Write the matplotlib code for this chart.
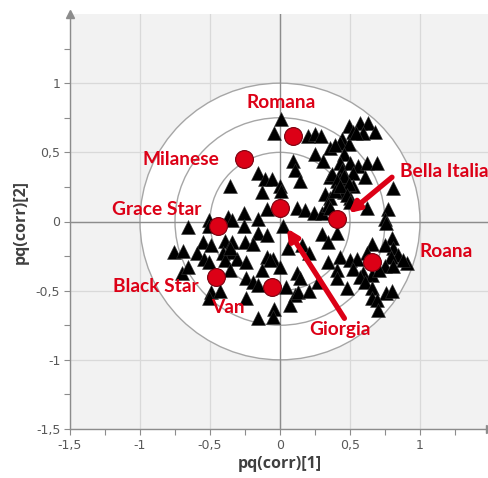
import matplotlib
matplotlib.use("Agg")
import matplotlib.pyplot as plt
from matplotlib.patches import Circle
from matplotlib.ticker import FixedLocator, FuncFormatter

# Loadings of the variables (black triangles)
var_x = [-0.36, -0.26, -0.37, -0.51,
         0.01, -0.04, 0.20, 0.25, 0.29, 0.36, 0.25, 0.31, 0.09, 0.11, 0.14,
         -0.16, -0.11, -0.06, 0.00, 0.01, -0.13, 0.32, 0.36, -0.09, 0.12,
         0.18, 0.24, 0.30, 0.36, 0.34,
         0.49, 0.57, 0.63, 0.68, 0.59, 0.52, 0.44, 0.43, 0.49, 0.46, 0.43,
         0.50, 0.56, 0.62, 0.69, 0.44, 0.52, 0.61, 0.43, 0.46, 0.52, 0.46,
         0.50, 0.81, 0.62, 0.77, 0.75,
         0.54, 0.39, 0.37, 0.46, 0.41, 0.49, 0.39, 0.43, 0.48, 0.50, 0.36,
         -0.66, -0.51, -0.26, -0.55, -0.49, -0.39, -0.34, -0.25, -0.76, -0.69,
         -0.59, -0.54, -0.51, -0.41, -0.34, -0.31, -0.39, -0.36, -0.24, -0.70,
         -0.66, -0.24, -0.49, -0.43, -0.51, -0.24,
         -0.34, -0.16, -0.36, -0.05,
         -0.16, -0.09, 0.02, -0.19, 0.06, -0.09, -0.07, -0.13, 0.00, 0.16,
         0.21, 0.30, 0.34, 0.34, 0.12, 0.14, -0.19, -0.16, 0.04, 0.11, 0.13,
         0.21, 0.27, 0.07, -0.04, -0.05, -0.16,
         0.76, 0.41, 0.66, 0.80, 0.81, 0.75, 0.84, 0.79, 0.62, 0.43, 0.50,
         0.55, 0.91, 0.88, 0.75, 0.81, 0.52, 0.59, 0.57, 0.41, 0.41, 0.66,
         0.71, 0.61, 0.48, 0.66, 0.66, 0.76, 0.80, 0.69, 0.70]
var_y = [0.26, 0.06, 0.03, 0.01,
         0.74, 0.64, 0.62, 0.63, 0.62, 0.53, 0.49, 0.44, 0.44, 0.37, 0.29,
         0.35, 0.31, 0.31, 0.26, 0.22, 0.21, 0.20, 0.32, 0.09, 0.10,
         0.08, 0.06, 0.06, 0.17, 0.12,
         0.69, 0.71, 0.71, 0.65, 0.64, 0.65, 0.60, 0.57, 0.56, 0.49, 0.42,
         0.42, 0.40, 0.42, 0.42, 0.37, 0.35, 0.32, 0.31, 0.28, 0.26, 0.21,
         0.17, 0.24, 0.10, 0.09, 0.02,
         0.64, 0.55, 0.34, 0.33, 0.29, 0.27, 0.22, 0.26, 0.19, 0.14, 0.10,
         -0.04, -0.03, -0.03, -0.15, -0.17, -0.14, -0.15, -0.15, -0.22, -0.21,
         -0.23, -0.27, -0.29, -0.23, -0.22, -0.27, -0.28, -0.35, -0.29, -0.37,
         -0.33, -0.41, -0.51, -0.50, -0.55, -0.55,
         0.01, 0.02, -0.19, -0.27,
         -0.08, -0.10, -0.03, -0.16, -0.19, -0.26, -0.28, -0.35, -0.33, -0.17,
         -0.23, -0.09, -0.15, -0.29, -0.37, -0.41, -0.44, -0.46, -0.47, -0.53,
         -0.51, -0.50, -0.44, -0.60, -0.63, -0.69, -0.70,
         -0.01, -0.08, -0.16, -0.12, -0.19, -0.17, -0.24, -0.26, -0.23, -0.26,
         -0.28, -0.27, -0.30, -0.28, -0.32, -0.32, -0.34, -0.37, -0.40, -0.35,
         -0.41, -0.39, -0.35, -0.44, -0.48, -0.48, -0.55, -0.52, -0.50, -0.57,
         -0.64]

# Products (red circles)
products = ["Romana", "Milanese", "Grace Star", "Black Star", "Van",
            "Giorgia", "Bella Italia", "Roana"]
prod_x = [0.09, -0.26, -0.44, -0.46, -0.06, 0.00, 0.41, 0.66]
prod_y = [0.62, 0.45, -0.03, -0.40, -0.47, 0.10, 0.02, -0.29]

ticks = [-1.5, -1.0, -0.5, 0.0, 0.5, 1.0]
minor_ticks = [-1.25, -0.75, -0.25, 0.25, 0.75, 1.25]
circle_radii = [1.0, 0.75, 0.5]

RED = "#dc0016"
GREY_TXT = "#595959"

fig = plt.figure(figsize=(4.88, 4.78), dpi=100)
ax = fig.add_axes([70 / 488, 49 / 478, 420 / 488, 415 / 478])
ax.set_xlim(-1.5, 1.5)
ax.set_ylim(-1.5, 1.5)
ax.set_facecolor("#f2f2f2")

for s in ["top", "right"]:
    ax.spines[s].set_visible(False)
for s in ["left", "bottom"]:
    ax.spines[s].set_color("#8c8c8c")
    ax.spines[s].set_linewidth(1.0)

# arrow heads at the axis ends
ax.plot(1, 0, ">", color="#8c8c8c", ms=6, transform=ax.transAxes, clip_on=False)
ax.plot(0, 1, "^", color="#8c8c8c", ms=6, transform=ax.transAxes, clip_on=False)

ax.xaxis.set_major_locator(FixedLocator(ticks))
ax.yaxis.set_major_locator(FixedLocator(ticks))
ax.xaxis.set_minor_locator(FixedLocator(minor_ticks))
ax.yaxis.set_minor_locator(FixedLocator(minor_ticks))
fmt = FuncFormatter(lambda v, p: f"{v:g}".replace(".", ","))
ax.xaxis.set_major_formatter(fmt)
ax.yaxis.set_major_formatter(fmt)
ax.tick_params(which="both", direction="out", length=4, width=0.8,
               color="#8c8c8c", labelsize=9, labelcolor=GREY_TXT, pad=3)

ax.grid(True, which="major", color="#d9d9d9", lw=0.9)
ax.set_axisbelow(True)

# correlation circles
ax.add_patch(Circle((0, 0), circle_radii[0], facecolor="white",
                    edgecolor="none", zorder=1))
for r in circle_radii:
    ax.add_patch(Circle((0, 0), r, facecolor="none", edgecolor="#a6a6a6",
                        lw=1.0, zorder=1.5))

ax.axhline(0, color="#8c8c8c", lw=1.0, zorder=1.6)
ax.axvline(0, color="#8c8c8c", lw=1.0, zorder=1.6)

ax.scatter(var_x, var_y, marker="^", s=100, color="black",
           edgecolors="#333333", linewidths=0.4, zorder=3)
ax.scatter(prod_x, prod_y, marker="o", s=165, color=RED,
           edgecolors="#7a000e", linewidths=0.8, zorder=4)

label_pos = {
    "Romana": (0.01, 0.86, "center"),
    "Milanese": (-0.71, 0.45, "center"),
    "Grace Star": (-0.88, 0.09, "center"),
    "Black Star": (-0.89, -0.47, "center"),
    "Van": (-0.37, -0.62, "center"),
    "Giorgia": (0.425, -0.78, "center"),
    "Bella Italia": (0.857, 0.36, "left"),
    "Roana": (1.19, -0.22, "center"),
}
for name in products:
    lx, ly, ha = label_pos[name]
    ax.text(lx, ly, name, color=RED, fontsize=13.8, fontweight="bold",
            family="Lato", ha=ha, va="center", zorder=5, clip_on=False)

arrow_kw = dict(arrowstyle="-|>", color=RED, lw=3.8, mutation_scale=16,
                shrinkA=0, shrinkB=0)
ax.annotate("", xy=(0.49, 0.06), xytext=(0.80, 0.32),
            arrowprops=arrow_kw, zorder=5)
ax.annotate("", xy=(0.05, -0.05), xytext=(0.46, -0.70),
            arrowprops=arrow_kw, zorder=5)

ax.set_xlabel("pq(corr)[1]", fontsize=11.5, fontweight="bold",
              color="#404040", family="Open Sans", labelpad=3)
ax.set_ylabel("pq(corr)[2]", fontsize=11.5, fontweight="bold",
              color="#404040", family="Open Sans", labelpad=5)

fig.savefig("out.png", dpi=100)
